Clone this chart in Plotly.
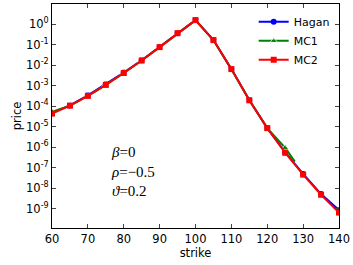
import plotly.graph_objects as go

strikes = [60, 65, 70, 75, 80, 85, 90, 95, 100, 105, 110, 115, 120, 125, 130, 135, 140]
hagan = [4.6e-5, 1.1e-4, 3.4e-4, 1.2e-3, 4.4e-3, 1.75e-2, 7.8e-2, 0.37, 1.6, 0.17, 6.5e-3, 2.0e-4, 8.6e-6, 5.6e-7, 5.0e-8, 5.2e-9, 8.5e-10]
mc1_strikes = [60, 65, 70, 75, 80, 85, 90, 95, 100, 105, 110, 115, 120, 125, 127.7]
mc1 = [5.4e-5, 1.07e-4, 3.2e-4, 1.1e-3, 4.2e-3, 1.7e-2, 7.7e-2, 0.37, 1.6, 0.17, 6.5e-3, 1.95e-4, 8.6e-6, 9.3e-7, 2.0e-7]
mc1_marker_sizes = [7] * 14 + [0]
mc2 = [4.4e-5, 1.07e-4, 3.2e-4, 1.1e-3, 4.2e-3, 1.7e-2, 7.7e-2, 0.37, 1.6, 0.17, 6.5e-3, 1.95e-4, 8.6e-6, 5.4e-7, 4.6e-8, 4.8e-9, 6.5e-10]
ytick_vals = [1e0, 1e-1, 1e-2, 1e-3, 1e-4, 1e-5, 1e-6, 1e-7, 1e-8, 1e-9]
ytick_text = ["10<sup>0</sup>", "10<sup>-1</sup>", "10<sup>-2</sup>", "10<sup>-3</sup>", "10<sup>-4</sup>",
              "10<sup>-5</sup>", "10<sup>-6</sup>", "10<sup>-7</sup>", "10<sup>-8</sup>", "10<sup>-9</sup>"]
xtick_vals = [60, 70, 80, 90, 100, 110, 120, 130, 140]

fig = go.Figure()
fig.add_trace(go.Scatter(x=strikes, y=hagan, name="Hagan", mode="lines+markers",
                         line=dict(color="#0000ff", width=2),
                         marker=dict(symbol="circle", size=6, color="#0000ff")))
fig.add_trace(go.Scatter(x=mc1_strikes, y=mc1, name="MC1", mode="lines+markers",
                         line=dict(color="#008000", width=2),
                         marker=dict(symbol="triangle-up", size=mc1_marker_sizes, color="#008000")))
fig.add_trace(go.Scatter(x=strikes, y=mc2, name="MC2", mode="lines+markers",
                         line=dict(color="#ff0000", width=2),
                         marker=dict(symbol="square", size=6, color="#ff0000")))

fig.update_layout(
    width=353, height=265,
    margin=dict(l=52, r=14, t=4, b=37),
    paper_bgcolor="white", plot_bgcolor="white",
    font=dict(family="DejaVu Sans", size=11, color="black"),
    showlegend=True,
    legend=dict(x=0.985, y=0.985, xanchor="right", yanchor="top",
                bgcolor="rgba(0,0,0,0)", font=dict(size=11),
                tracegroupgap=0, itemwidth=30),
    xaxis=dict(range=[60, 140], tickvals=xtick_vals, ticks="inside", ticklen=4,
               showgrid=False, zeroline=False, showline=True, linecolor="black",
               linewidth=1, mirror="ticks", automargin=False,
               tickfont=dict(size=11.5),
               title=dict(text="strike", standoff=0, font=dict(size=11.5))),
    yaxis=dict(type="log", range=[-9.94, 0.99], tickvals=ytick_vals, ticktext=ytick_text,
               ticks="inside", ticklen=4, showgrid=False, zeroline=False, showline=True,
               linecolor="black", linewidth=1, mirror="ticks", automargin=False,
               tickfont=dict(size=11.5),
               title=dict(text="price", standoff=2, font=dict(size=11.5))),
    annotations=[dict(x=0.2, y=0.385, xref="paper", yref="paper", xanchor="left", yanchor="top",
                      showarrow=False, align="left",
                      text="<i>β</i>=0<br><i>ρ</i>=−0.5<br><i>ϑ</i>=0.2",
                      font=dict(family="Liberation Serif", size=15, color="black"))],
)

fig.write_html("out.html", config={"displayModeBar": False},
               post_script="document.body.style.margin='0';document.body.style.padding='0';")
